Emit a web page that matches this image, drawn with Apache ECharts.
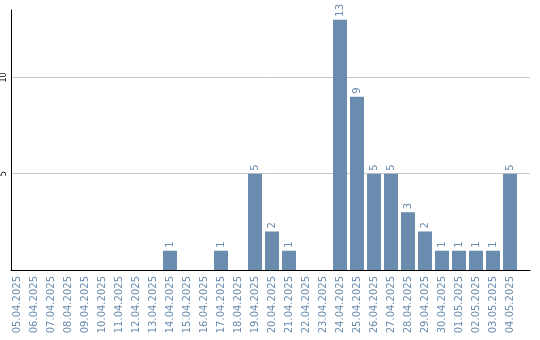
<!DOCTYPE html>
<html><head><meta charset="utf-8">
<script src="https://cdn.jsdelivr.net/npm/echarts@6/dist/echarts.min.js"></script>
<style>html,body{margin:0;padding:0;background:#fff}#c{width:540px;height:340px}</style>
</head><body><div id="c"></div>
<script>
const categories = ['05.04.2025','06.04.2025','07.04.2025','08.04.2025','09.04.2025','10.04.2025','11.04.2025','12.04.2025','13.04.2025','14.04.2025','15.04.2025','16.04.2025','17.04.2025','18.04.2025','19.04.2025','20.04.2025','21.04.2025','22.04.2025','23.04.2025','24.04.2025','25.04.2025','26.04.2025','27.04.2025','28.04.2025','29.04.2025','30.04.2025','01.05.2025','02.05.2025','03.05.2025','04.05.2025'];
const values = [0,0,0,0,0,0,0,0,0,1,0,0,1,0,5,2,1,0,0,13,9,5,5,3,2,1,1,1,1,5];
const yTicks = [5, 10];

const barColor = '#6a8caf';
const chart = echarts.init(document.getElementById('c'));
chart.setOption({
  animation: false,
  grid: [
    {left: 8.5, top: 10, width: 510, bottom: 70, containLabel: false},
    {left: 10, top: 10, width: 520, bottom: 70, containLabel: false}
  ],
  xAxis: [
    {type: 'category', gridIndex: 0, data: categories,
     axisLine: {show: false},
     axisTick: {show: false},
     axisLabel: {rotate: 90, color: barColor, fontFamily: 'DejaVu Sans', fontSize: 10, margin: 6, interval: 0}},
    {type: 'category', gridIndex: 1, data: categories, z: 8,
     axisLine: {show: true, lineStyle: {color: '#000', width: 1}},
     axisTick: {show: false}, axisLabel: {show: false}}
  ],
  yAxis: [
    {type: 'value', gridIndex: 0, min: 0, max: 13.5, interval: 5, show: false},
    {type: 'value', gridIndex: 1, min: 0, max: 13.5, interval: 5, z: 1,
     axisLine: {show: true, lineStyle: {color: '#000', width: 1}},
     axisTick: {show: false},
     axisLabel: {rotate: 90, color: '#000', fontFamily: 'DejaVu Sans', fontSize: 8, margin: 3,
       showMinLabel: false, showMaxLabel: false,
       formatter: v => yTicks.includes(v) ? String(v) : ''},
     splitLine: {show: true, showMinLine: false, showMaxLine: false, lineStyle: {color: '#c8c8c8', width: 1}}}
  ],
  series: [{
    type: 'bar', xAxisIndex: 0, yAxisIndex: 0, data: values.map(v => v === 0 ? null : v),
    barWidth: 14, z: 4,
    itemStyle: {color: barColor},
    label: {show: true, position: 'top', rotate: 90, align: 'left', verticalAlign: 'middle', distance: 3,
      color: barColor, fontFamily: 'DejaVu Sans', fontSize: 10}
  }]
});
</script></body></html>
